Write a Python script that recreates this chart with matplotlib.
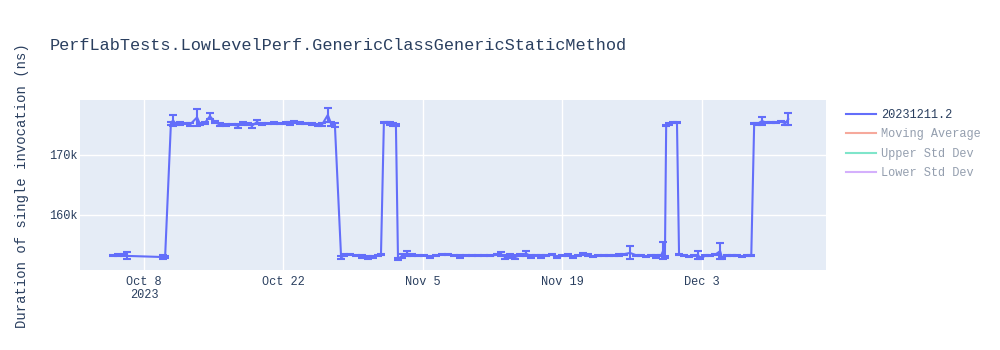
import matplotlib
matplotlib.use("Agg")
import matplotlib.pyplot as plt
from matplotlib.lines import Line2D
import numpy as np
import pandas as pd

title = "PerfLabTests.LowLevelPerf.GenericClassGenericStaticMethod"
y_label = "Duration of single invocation (ns)"
run_name = "20231211.2"
hidden_series = ["Moving Average", "Upper Std Dev", "Lower Std Dev"]
hidden_colors = ["#EF553B", "#00cc96", "#ab63fa"]

# timestamps of each run
dates = [
    "2023-10-04 21:00", "2023-10-05 09:00", "2023-10-05 23:00", "2023-10-06 07:00",
    "2023-10-09 22:00", "2023-10-10 03:00",
    "2023-10-10 17:00", "2023-10-10 22:00", "2023-10-11 05:00", "2023-10-11 15:00",
    "2023-10-12 05:00", "2023-10-12 15:00", "2023-10-13 08:00", "2023-10-13 15:00",
    "2023-10-14 03:00", "2023-10-14 15:00", "2023-10-15 03:00", "2023-10-15 15:00",
    "2023-10-16 06:00", "2023-10-16 20:00", "2023-10-17 11:00", "2023-10-17 23:00",
    "2023-10-18 11:00", "2023-10-18 20:00", "2023-10-19 08:00", "2023-10-19 20:00",
    "2023-10-20 11:00", "2023-10-21 01:00", "2023-10-21 16:00", "2023-10-22 06:00",
    "2023-10-22 16:00", "2023-10-23 01:00", "2023-10-23 16:00", "2023-10-24 04:00",
    "2023-10-24 21:00", "2023-10-25 11:00", "2023-10-25 21:00", "2023-10-26 11:00",
    "2023-10-26 19:00", "2023-10-27 04:00",
    "2023-10-27 19:00", "2023-10-28 02:00", "2023-10-28 16:00", "2023-10-29 07:00",
    "2023-10-29 21:00", "2023-10-30 12:00", "2023-10-31 00:00", "2023-10-31 12:00",
    "2023-10-31 19:00",
    "2023-11-01 02:00", "2023-11-01 10:00", "2023-11-01 17:00", "2023-11-02 00:00",
    "2023-11-02 07:00",
    "2023-11-02 12:00", "2023-11-02 22:00", "2023-11-03 10:00", "2023-11-03 22:00",
    "2023-11-04 12:00", "2023-11-05 03:00", "2023-11-05 17:00", "2023-11-06 08:00",
    "2023-11-06 22:00", "2023-11-07 12:00", "2023-11-08 03:00", "2023-11-08 17:00",
    "2023-11-09 08:00", "2023-11-09 22:00", "2023-11-10 13:00", "2023-11-11 03:00",
    "2023-11-11 18:00", "2023-11-12 11:00", "2023-11-12 20:00", "2023-11-13 06:00",
    "2023-11-13 18:00", "2023-11-14 06:00", "2023-11-14 18:00", "2023-11-15 08:00",
    "2023-11-15 21:00", "2023-11-16 09:00", "2023-11-16 21:00", "2023-11-17 09:00",
    "2023-11-17 23:00", "2023-11-18 11:00", "2023-11-18 23:00", "2023-11-19 14:00",
    "2023-11-20 02:00", "2023-11-20 14:00", "2023-11-21 02:00", "2023-11-21 14:00",
    "2023-11-22 02:00", "2023-11-22 14:00", "2023-11-23 04:00", "2023-11-23 17:00",
    "2023-11-24 05:00", "2023-11-24 17:00", "2023-11-25 05:00", "2023-11-25 19:00",
    "2023-11-26 10:00", "2023-11-26 22:00", "2023-11-27 10:00", "2023-11-27 22:00",
    "2023-11-28 10:00", "2023-11-28 22:00", "2023-11-29 03:00", "2023-11-29 07:00",
    "2023-11-29 10:00", "2023-11-29 17:00", "2023-11-30 03:00", "2023-11-30 12:00",
    "2023-11-30 17:00", "2023-12-01 05:00", "2023-12-01 17:00", "2023-12-02 05:00",
    "2023-12-02 15:00", "2023-12-02 20:00", "2023-12-03 08:00", "2023-12-03 20:00",
    "2023-12-04 08:00", "2023-12-04 20:00", "2023-12-05 01:00", "2023-12-05 13:00",
    "2023-12-06 01:00", "2023-12-06 13:00", "2023-12-07 01:00", "2023-12-07 13:00",
    "2023-12-07 23:00",
    "2023-12-08 06:00", "2023-12-08 13:00", "2023-12-09 01:00", "2023-12-09 11:00",
    "2023-12-09 23:00", "2023-12-10 11:00", "2023-12-10 23:00", "2023-12-11 09:00",
    "2023-12-11 16:00",
]

# mean duration, in thousands of ns
means_k = [
    153.2, 153.25, 153.3, 153.1,
    152.9, 152.9,
    175.2, 175.7, 175.1, 175.2,
    175.15, 175.0, 176.2, 175.1,
    175.3, 176.4, 175.4, 175.0,
    174.9, 175.0, 174.8, 175.2,
    175.1, 174.8, 175.4, 175.1,
    175.2, 175.25, 175.2, 175.3,
    175.2, 175.4, 175.3, 175.2,
    175.1, 174.9, 175.0, 176.6,
    175.1, 174.9,
    152.8, 153.2, 153.3, 153.2,
    153.0, 152.8, 152.9, 153.2,
    153.3,
    175.3, 175.4, 175.2, 175.0,
    174.9,
    152.6, 153.1, 153.5, 153.2,
    153.1, 153.2, 152.9, 153.2,
    153.3, 153.3, 153.2, 153.0,
    153.2, 153.1, 153.1, 153.1,
    153.1, 153.3, 153.4, 152.9,
    153.1, 152.9, 153.2, 153.5,
    153.0, 153.2, 153.0, 153.1,
    153.3, 152.9, 153.1, 153.2,
    152.9, 153.2, 153.4, 153.2,
    153.0, 153.1, 153.2, 153.1,
    153.2, 153.3, 153.4, 153.6,
    153.2, 153.1, 153.0, 153.1,
    153.0, 153.2, 154.0, 152.9,
    174.8, 175.1, 175.3, 175.4,
    153.4, 153.2, 153.0, 153.1,
    153.25, 152.7, 153.1, 153.2,
    153.3, 153.9, 152.7, 153.2,
    153.1, 153.2, 153.0, 153.1,
    153.2,
    175.2, 175.1, 175.6, 175.3,
    175.4, 175.4, 175.5, 175.2,
    175.9,
]

# standard deviation, in thousands of ns
stds_k = [
    0.1, 0.1, 0.2, 0.6,
    0.3, 0.1,
    0.2, 0.9, 0.1, 0.2,
    0.1, 0.2, 1.4, 0.2,
    0.2, 0.5, 0.2, 0.2,
    0.2, 0.1, 0.3, 0.2,
    0.1, 0.3, 0.3, 0.2,
    0.1, 0.1, 0.1, 0.2,
    0.3, 0.2, 0.2, 0.1,
    0.2, 0.2, 0.2, 1.2,
    0.3, 0.3,
    0.3, 0.2, 0.1, 0.1,
    0.2, 0.3, 0.2, 0.1,
    0.1,
    0.1, 0.1, 0.2, 0.2,
    0.2,
    0.2, 0.3, 0.4, 0.2,
    0.1, 0.1, 0.2, 0.1,
    0.1, 0.1, 0.1, 0.2,
    0.1, 0.1, 0.1, 0.1,
    0.1, 0.1, 0.3, 0.3,
    0.3, 0.3, 0.2, 0.4,
    0.2, 0.1, 0.2, 0.1,
    0.1, 0.2, 0.1, 0.2,
    0.2, 0.1, 0.2, 0.2,
    0.1, 0.1, 0.1, 0.1,
    0.1, 0.2, 0.1, 1.1,
    0.1, 0.1, 0.1, 0.1,
    0.2, 0.1, 1.4, 0.2,
    0.1, 0.2, 0.1, 0.1,
    0.1, 0.1, 0.1, 0.1,
    0.6, 0.2, 0.1, 0.1,
    0.1, 1.4, 0.2, 0.1,
    0.1, 0.1, 0.1, 0.1,
    0.1,
    0.1, 0.2, 0.7, 0.1,
    0.1, 0.1, 0.1, 0.2,
    1.0,
]

x_range = ["2023-10-01 14:00", "2023-12-15 11:00"]
y_range = [150750, 179100]
x_ticks = ["2023-10-08", "2023-10-22", "2023-11-05", "2023-11-19", "2023-12-03"]
x_tick_labels = ["Oct 8\n2023", "Oct 22", "Nov 5", "Nov 19", "Dec 3"]
y_ticks = [160000, 170000]
y_tick_labels = ["160k", "170k"]

text_color = "#2a3f5f"
line_color = "#636efa"
plt.rcParams["font.family"] = ["Liberation Mono", "DejaVu Sans Mono"]

x = pd.to_datetime(dates)
y = np.array(means_k) * 1000
err = np.array(stds_k) * 1000

fig = plt.figure(figsize=(10, 3.5), dpi=100)
ax = fig.add_axes([0.08, 0.2286, 0.746, 0.4857])
ax.set_facecolor("#E5ECF6")
for s in ax.spines.values():
    s.set_visible(False)

ax.errorbar(x, y, yerr=err, color=line_color, linewidth=1.5, elinewidth=1.5,
            capsize=3.2, capthick=1.5, zorder=3)

ax.set_xlim(pd.to_datetime(x_range[0]), pd.to_datetime(x_range[1]))
ax.set_ylim(*y_range)
ax.set_xticks(pd.to_datetime(x_ticks))
ax.set_xticklabels(x_tick_labels)
ax.set_yticks(y_ticks)
ax.set_yticklabels(y_tick_labels)
ax.tick_params(axis="both", length=0, labelsize=8.6, colors=text_color)
ax.tick_params(axis="x", pad=4)
ax.tick_params(axis="y", pad=2)
ax.grid(True, color="white", linewidth=1)
ax.set_axisbelow(True)

fig.text(0.05, 1 - 45 / 350, title, fontsize=12.2, color=text_color, va="center", ha="left")
fig.text(0.022, 1 - 186 / 350, y_label, fontsize=10, color=text_color,
         rotation=90, va="center", ha="center")

handles = [Line2D([], [], color=line_color, linewidth=1.5)]
for c in hidden_colors:
    handles.append(Line2D([], [], color=c, linewidth=1.5, alpha=0.5))
legend = fig.legend(handles, [run_name] + hidden_series, loc="upper left",
                    bbox_to_anchor=(0.846, 1 - 109 / 350), frameon=False,
                    fontsize=8.6, handlelength=2.5, handletextpad=0.4,
                    labelspacing=0.62, borderpad=0, borderaxespad=0)
for i, t in enumerate(legend.get_texts()):
    t.set_color(text_color)
    if i > 0:
        t.set_alpha(0.5)

fig.savefig("out.png", dpi=100)
